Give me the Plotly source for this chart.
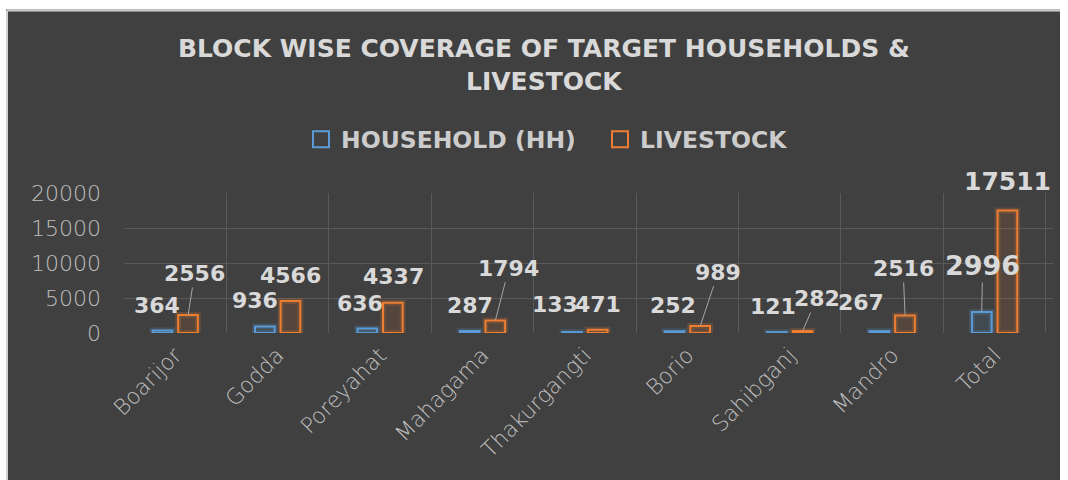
import plotly.graph_objects as go

# ---- data ----
categories = ["Boarijor", "Godda", "Poreyahat", "Mahagama", "Thakurgangti",
              "Borio", "Sahibganj", "Mandro", "Total"]
household = [364, 936, 636, 287, 133, 252, 121, 267, 2996]
livestock = [2556, 4566, 4337, 1794, 471, 989, 282, 2516, 17511]
y_ticks = [0, 5000, 10000, 15000, 20000]
y_tick_text = ["0", "5000", "10000", "15000", "20000"]

# ---- label placement (pixel offsets of label centre from bar top) ----
hh_label_offsets = [(-5, -25), (-9.5, -26), (-7, -25), (0, -25.5), (-17, -27.6),
                    (-1, -26), (-4, -25.7), (-18.5, -29), (1, -46.6)]
hh_leader = [False] * 8 + [True]
ls_label_offsets = [(6.5, -41.7), (0, -25.7), (0.5, -25.8), (13.5, -52.3), (0.5, -25.2),
                    (18, -54), (14, -32.5), (-2, -47), (0, -29)]
ls_leader = [True, False, False, True, False, True, True, True, False]

BLUE = "#5B9BD5"
ORANGE = "#ED7D31"
BG = "#404040"
GRID = "#595959"
TXT = "#d9d9d9"

W, H = 1060, 480
ML, MR, MT, MB = 124, 7, 193, 147
plot_w = W - ML - MR
plot_h = H - MT - MB
BARGAP = 0.5
cat_w = plot_w / len(categories)
bar_shift = cat_w * (1 - BARGAP) / 4


def px(xpix):
    return (xpix - ML) / plot_w


def py(ypix):
    return (MT + plot_h - ypix) / plot_h


fig = go.Figure()

# glow layers
fig.add_trace(go.Bar(x=categories, y=household, offsetgroup="hh", showlegend=False,
                     marker=dict(color="rgba(91,155,213,0.07)",
                                 line=dict(color="rgba(91,155,213,0.2)", width=6)),
                     hoverinfo="skip"))
fig.add_trace(go.Bar(x=categories, y=livestock, offsetgroup="ls", showlegend=False,
                     marker=dict(color="rgba(237,125,49,0.07)",
                                 line=dict(color="rgba(237,125,49,0.2)", width=6)),
                     hoverinfo="skip"))
# main bars
fig.add_trace(go.Bar(x=categories, y=household, offsetgroup="hh", showlegend=False,
                     name="HOUSEHOLD (HH)",
                     marker=dict(color="rgba(91,155,213,0.05)",
                                 line=dict(color=BLUE, width=2))))
fig.add_trace(go.Bar(x=categories, y=livestock, offsetgroup="ls", showlegend=False,
                     name="LIVESTOCK",
                     marker=dict(color="rgba(237,125,49,0.05)",
                                 line=dict(color=ORANGE, width=2))))
# legend entries
for name, col in [("HOUSEHOLD (HH)", BLUE), ("LIVESTOCK", ORANGE)]:
    fig.add_trace(go.Scatter(x=[None], y=[None], mode="markers", name=name,
                             marker=dict(symbol="square", size=16, color="rgba(0,0,0,0)",
                                         line=dict(color=col, width=2))))

annotations = []
for i, c in enumerate(categories):
    for vals, offs, lead, sign, big_size in [(household, hh_label_offsets, hh_leader, -1, 27),
                                             (livestock, ls_label_offsets, ls_leader, 1, 25)]:
        big = c == "Total"
        ax, ay = offs[i]
        annotations.append(dict(
            x=c, y=vals[i], xref="x", yref="y", xshift=sign * bar_shift,
            text=str(vals[i]), showarrow=True, ax=ax, ay=ay, arrowhead=0,
            arrowwidth=1, standoff=0,
            arrowcolor="#a6a6a6" if lead[i] else "rgba(0,0,0,0)",
            font=dict(family="DejaVu Sans", size=big_size if big else 22, color=TXT,
                      weight="bold"),
        ))

# title lines
for txt, ypix in [("BLOCK WISE COVERAGE OF TARGET HOUSEHOLDS &", 48), ("LIVESTOCK", 82)]:
    annotations.append(dict(text=txt, xref="paper", yref="paper", x=px(544), y=py(ypix),
                            showarrow=False, xanchor="center", yanchor="middle",
                            font=dict(family="DejaVu Sans", size=25, color=TXT, weight="bold")))

# white page margin (left / top) with a light border line around the dark chart panel
shapes = [
    dict(type="rect", xref="paper", yref="paper", layer="below",
         x0=px(-10), x1=px(6), y0=py(H + 10), y1=py(-10),
         fillcolor="white", line=dict(width=0)),
    dict(type="rect", xref="paper", yref="paper", layer="below",
         x0=px(-10), x1=px(W + 10), y0=py(9.5), y1=py(-10),
         fillcolor="white", line=dict(width=0)),
    dict(type="line", xref="paper", yref="paper", layer="below",
         x0=px(7), x1=px(7), y0=py(H + 10), y1=py(10.5),
         line=dict(color="#d0d0d0", width=2)),
    dict(type="line", xref="paper", yref="paper", layer="below",
         x0=px(7), x1=px(W + 10), y0=py(10.5), y1=py(10.5),
         line=dict(color="#d0d0d0", width=2)),
]

fig.update_layout(
    width=W, height=H,
    margin=dict(l=ML, r=MR, t=MT, b=MB),
    paper_bgcolor=BG, plot_bgcolor="rgba(0,0,0,0)",
    barmode="group", bargap=BARGAP, bargroupgap=0.23,
    showlegend=True,
    legend=dict(orientation="h", xanchor="left", yanchor="middle",
                x=px(301), y=py(139.5), entrywidth=254,
                font=dict(family="DejaVu Sans", size=23.5, color="#cccccc", weight="bold"),
                bgcolor="rgba(0,0,0,0)", itemclick=False),
    annotations=annotations,
    shapes=shapes,
    xaxis=dict(type="category", showgrid=True, gridcolor=GRID, gridwidth=1,
               tickson="boundaries", ticks="", tickangle=-45, showline=False, zeroline=False,
               tickfont=dict(family="DejaVu Sans", size=22, color="#bfbfbf", weight=300),
               ticklabelstandoff=4),
    yaxis=dict(range=[0, 20000], tickvals=y_ticks, ticktext=y_tick_text,
               showgrid=True, gridcolor=GRID, gridwidth=1,
               zeroline=False, showline=False, ticks="",
               tickfont=dict(family="DejaVu Sans", size=22, color="#bfbfbf", weight=300),
               ticklabelstandoff=22),
)

fig.write_html("out.html", config={"displayModeBar": False},
               post_script="document.documentElement.style.overflow='hidden';"
                           "document.body.style.overflow='hidden';"
                           "document.body.style.margin='0';")
